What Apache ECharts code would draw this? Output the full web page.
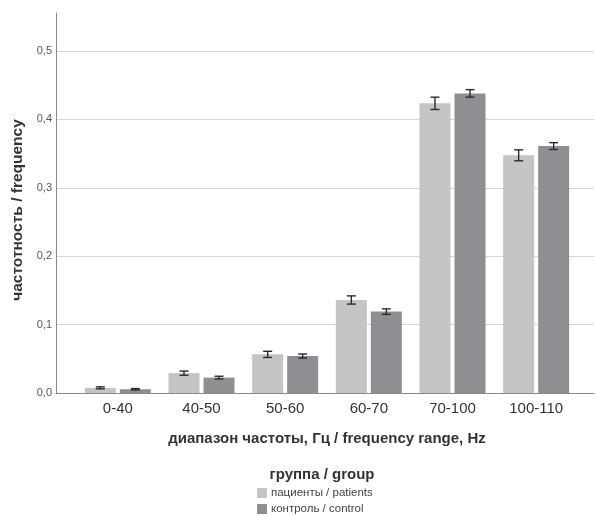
<!DOCTYPE html>
<html>
<head>
<meta charset="utf-8">
<title>частотность / frequency</title>
<script src="https://cdn.jsdelivr.net/npm/echarts@6/dist/echarts.min.js"></script>
<style>
  html, body { margin: 0; padding: 0; background: #fff; }
  #chartContainer { width: 596px; height: 516px; }
</style>
</head>
<body>
<div id="chartContainer"></div>
<script>
// данные
var categories = ['0-40', '40-50', '50-60', '60-70', '70-100', '100-110'];
var patients = [0.0075, 0.029, 0.0565, 0.136, 0.4235, 0.3475];
var control = [0.0055, 0.0225, 0.054, 0.119, 0.438, 0.361];
var patientsErr = [0.0015, 0.003, 0.0045, 0.006, 0.009, 0.008];
var controlErr = [0.001, 0.002, 0.003, 0.004, 0.0055, 0.005];
var yTicks = [0, 0.1, 0.2, 0.3, 0.4, 0.5];

(function(window, undefined) {
  var FONT = '"Liberation Sans", Arial, sans-serif';
  var BAR_W = 31, BAR_GAP = 4;

  fnInitChart();

  function fnErrorSeries(name, values, errs, side) {
    var rows = values.map(function(v, i) { return [i, v, errs[i]]; });
    return {
      type: 'custom',
      name: name + ' err',
      xAxisIndex: 2,
      yAxisIndex: 2,
      z: 5,
      silent: true,
      data: rows,
      renderItem: function(params, api) {
        var i = api.value(0), v = api.value(1), e = api.value(2);
        var dx = side * (BAR_W + BAR_GAP) / 2;
        var hi = api.coord([i, v + e]), lo = api.coord([i, v - e]);
        var x = hi[0] + dx, cap = 4.5;
        var st = { stroke: '#2a2a2a', lineWidth: 1.4 };
        return {
          type: 'group',
          children: [
            { type: 'line', shape: { x1: x, y1: hi[1], x2: x, y2: lo[1] }, style: st },
            { type: 'line', shape: { x1: x - cap, y1: hi[1], x2: x + cap, y2: hi[1] }, style: st },
            { type: 'line', shape: { x1: x - cap, y1: lo[1], x2: x + cap, y2: lo[1] }, style: st }
          ]
        };
      }
    };
  }

  function fnInitChart() {
    var chart = echarts.init(document.getElementById('chartContainer'), null, { renderer: 'canvas' });
    var hidden = { show: false };

    chart.setOption({
      animation: false,
      backgroundColor: '#fff',
      textStyle: { fontFamily: FONT },
      title: {
        text: 'группа / group',
        left: 317,
        top: 462,
        textAlign: 'center',
        textStyle: { fontSize: 15, fontWeight: 'bold', color: '#333', fontFamily: FONT }
      },
      legend: {
        orient: 'vertical',
        left: 257,
        top: 487,
        itemWidth: 10,
        itemHeight: 10,
        itemGap: 4,
        padding: 0,
        icon: 'rect',
        data: ['пациенты / patients', 'контроль / control'],
        textStyle: { fontSize: 11.5, color: '#444', fontFamily: FONT, padding: [0, 0, 0, -1] }
      },
      grid: [
        { left: 56, right: 2, top: 51, bottom: 123 },
        { left: 56, right: 2, top: 13, bottom: 123 },
        { left: 76, right: 18, top: 51, bottom: 123 }
      ],
      xAxis: [
        {
          gridIndex: 0, type: 'value', min: 0, max: 1,
          axisLine: { show: true, lineStyle: { color: '#8a8a8a', width: 1 } },
          axisTick: hidden, axisLabel: hidden, splitLine: hidden
        },
        { gridIndex: 1, type: 'value', min: 0, max: 1, show: false },
        {
          gridIndex: 2, type: 'category', data: categories,
          axisLine: hidden, axisTick: hidden, splitLine: hidden,
          axisLabel: { fontSize: 15, color: '#333', margin: 8, fontFamily: FONT },
          name: 'диапазон частоты, Гц / frequency range, Hz',
          nameLocation: 'middle',
          nameGap: 38,
          nameTextStyle: { fontSize: 15, fontWeight: 'bold', color: '#333', fontFamily: FONT }
        }
      ],
      yAxis: [
        {
          gridIndex: 0, type: 'value', min: 0, max: 0.5, interval: 0.1,
          axisLine: hidden, axisTick: hidden,
          splitLine: { show: true, lineStyle: { color: '#d6d6d6', width: 1 } },
          axisLabel: {
            fontSize: 11, color: '#555', margin: 4, fontFamily: FONT,
            formatter: function(v) { return v.toFixed(1).replace('.', ','); }
          }
        },
        {
          gridIndex: 1, type: 'value', min: 0, max: 0.555,
          axisLine: { show: true, lineStyle: { color: '#8a8a8a', width: 1 } },
          axisTick: hidden, axisLabel: hidden, splitLine: hidden,
          name: 'частотность / frequency',
          nameLocation: 'middle',
          nameGap: 30,
          nameTextStyle: {
            fontSize: 15.5, fontWeight: 'bold', color: '#333', fontFamily: FONT,
            padding: [0, 14, 0, 0]
          }
        },
        { gridIndex: 2, type: 'value', min: 0, max: 0.5, show: false }
      ],
      series: [
        {
          type: 'bar', name: 'пациенты / patients',
          xAxisIndex: 2, yAxisIndex: 2,
          barWidth: BAR_W, barGap: (BAR_GAP / BAR_W * 100) + '%',
          itemStyle: { color: '#c5c5c7' },
          data: patients
        },
        {
          type: 'bar', name: 'контроль / control',
          xAxisIndex: 2, yAxisIndex: 2,
          barWidth: BAR_W,
          itemStyle: { color: '#8f8f93' },
          data: control
        },
        fnErrorSeries('пациенты / patients', patients, patientsErr, -1),
        fnErrorSeries('контроль / control', control, controlErr, 1)
      ]
    });
  }
})(window);
</script>
</body>
</html>
